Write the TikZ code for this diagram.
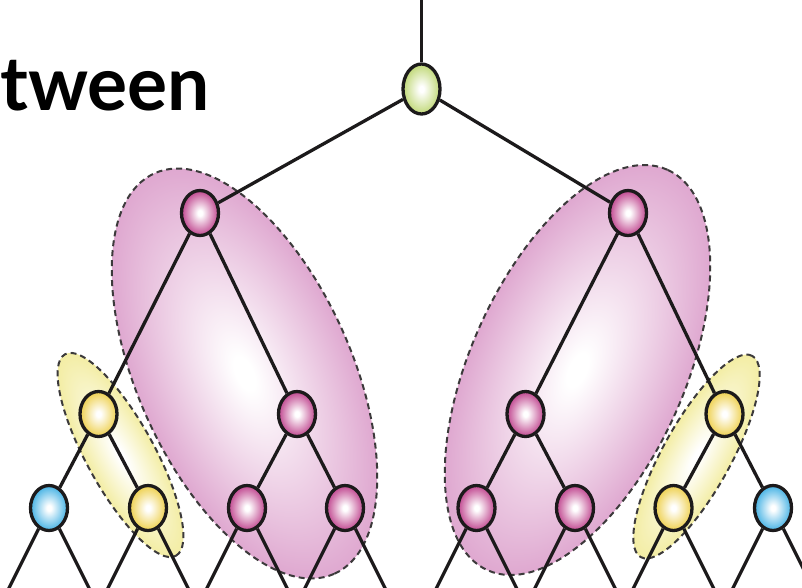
\documentclass[tikz,border=0pt]{standalone}
\usepackage{fontspec}
\newfontfamily\titlefont{Lato}
\usetikzlibrary{shapes.geometric}
\definecolor{pinkN}{HTML}{C0468F}
\definecolor{yelN}{HTML}{EED04E}
\definecolor{bluN}{HTML}{45B2E4}
\definecolor{grnN}{HTML}{C0D877}
\definecolor{pinkE}{HTML}{DFA8D0}
\definecolor{yelE}{HTML}{F3EDA4}
\definecolor{lineC}{HTML}{1C1A1B}
\definecolor{dashC}{HTML}{3C3A3B}
\pgfdeclareradialshading{shP}{\pgfpointorigin}{color(0bp)=(white); color(3bp)=(white); color(25bp)=(pinkN); color(50bp)=(pinkN)}
\pgfdeclareradialshading{shY}{\pgfpointorigin}{color(0bp)=(white); color(3bp)=(white); color(25bp)=(yelN); color(50bp)=(yelN)}
\pgfdeclareradialshading{shB}{\pgfpointorigin}{color(0bp)=(white); color(3bp)=(white); color(25bp)=(bluN); color(50bp)=(bluN)}
\pgfdeclareradialshading{shG}{\pgfpointorigin}{color(0bp)=(white); color(3bp)=(white); color(25bp)=(grnN); color(50bp)=(grnN)}
\pgfdeclareradialshading{shEP}{\pgfpointorigin}{color(0bp)=(white); color(2bp)=(white); color(25bp)=(pinkE); color(50bp)=(pinkE)}
\pgfdeclareradialshading{shEY}{\pgfpointorigin}{color(0bp)=(white); color(2bp)=(white); color(25bp)=(yelE); color(50bp)=(yelE)}
\tikzset{
  tnode/.style={ellipse, draw=lineC, line width=3.3pt, minimum width=37pt, minimum height=45pt, inner sep=0pt, shade},
  pnode/.style={tnode, shading=shP},
  ynode/.style={tnode, shading=shY},
  bnode/.style={tnode, shading=shB},
  gnode/.style={tnode, shading=shG, minimum height=50pt},
  edge/.style={draw=lineC, line width=3.3pt},
  grp/.style={shade, draw=dashC, line width=2pt, dash pattern=on 6pt off 4pt},
}
\begin{document}
\begin{tikzpicture}[x=1pt,y=-1pt]
\useasboundingbox (0,0) rectangle (802,587);
\clip (0,0) rectangle (802,587);
% group ellipses
\path[grp, shading=shEP, transform canvas={shift={(244.5,373.5)},rotate=-65.8}] (0,0) ellipse [x radius=219.5pt, y radius=107pt];
\path[grp, shading=shEP, transform canvas={shift={(577.5,370)},rotate=65.8}] (0,0) ellipse [x radius=219.5pt, y radius=107pt];
\path[grp, shading=shEY, transform canvas={shift={(120.5,455)},rotate=-61.2}] (0,0) ellipse [x radius=115pt, y radius=34pt];
\path[grp, shading=shEY, transform canvas={shift={(696.5,456.5)},rotate=61}] (0,0) ellipse [x radius=115pt, y radius=34pt];
% title
\node[anchor=base west, inner sep=0pt, font=\titlefont\bfseries\fontsize{75}{80}\selectfont] (title) at (0,110) {tween};
% nodes
\coordinate (top) at (421.5,-5);
\node[gnode] (root) at (421.5,89) {};
\node[pnode] (L1) at (200,213) {};
\node[pnode] (R1) at (628,213) {};
\node[ynode] (LY) at (98.5,414) {};
\node[pnode] (LP) at (297,414) {};
\node[pnode] (RP) at (525.5,414) {};
\node[ynode] (RY) at (724.5,414) {};
\node[bnode] (LB) at (49,508) {};
\node[ynode] (LY2) at (148,508) {};
\node[pnode] (LP2) at (247,508) {};
\node[pnode] (LP3) at (345,508) {};
\node[pnode] (RP2) at (476.5,508) {};
\node[pnode] (RP3) at (575,508) {};
\node[ynode] (RY2) at (673.5,508) {};
\node[bnode] (RB) at (773,508) {};
% edges
\draw[edge] (top) -- (root);
\draw[edge] (root) -- (L1);
\draw[edge] (root) -- (R1);
\draw[edge] (L1) -- (LY);
\draw[edge] (L1) -- (LP);
\draw[edge] (R1) -- (RP);
\draw[edge] (R1) -- (RY);
\draw[edge] (LY) -- (LB);
\draw[edge] (LY) -- (LY2);
\draw[edge] (LP) -- (LP2);
\draw[edge] (LP) -- (LP3);
\draw[edge] (RP) -- (RP2);
\draw[edge] (RP) -- (RP3);
\draw[edge] (RY) -- (RY2);
\draw[edge] (RY) -- (RB);
\foreach \n/\x in {LB/49, LY2/148, LP2/247, LP3/345, RP2/476.5, RP3/575, RY2/673.5, RB/773}{
  \coordinate (\n-l) at (\x-43.5,595);
  \coordinate (\n-r) at (\x+43.5,595);
  \draw[edge] (\n) -- (\n-l);
  \draw[edge] (\n) -- (\n-r);
}
\end{tikzpicture}
\end{document}
